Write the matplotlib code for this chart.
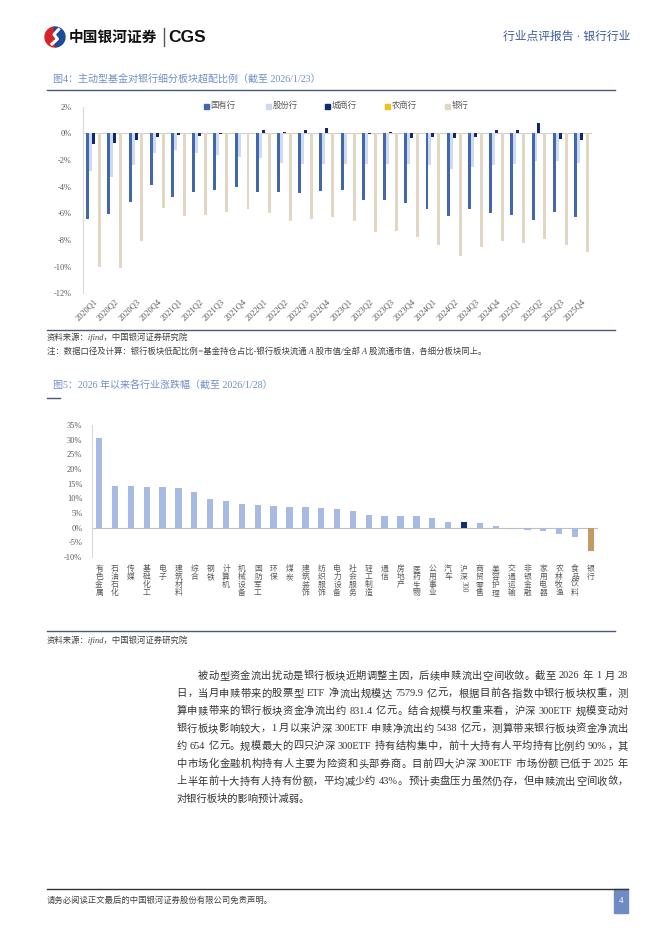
import re

import matplotlib
matplotlib.use('Agg')
import matplotlib.pyplot as plt
from matplotlib.patches import Rectangle, Wedge
import numpy as np

plt.rcParams['font.family'] = ['Liberation Serif', 'Noto Sans CJK SC']
plt.rcParams['axes.unicode_minus'] = False

W, H = 662, 936

# ---- data: figure 4 (active fund over/under-weight by bank sub-sector, %)
quarters = [f"{y}Q{q}" for y in range(2020, 2026) for q in range(1, 5)]
series_names = ['国有行', '股份行', '城商行', '农商行', '银行']
state_banks = [-6.4, -6.05, -5.15, -3.9, -4.8, -4.4, -4.25, -4.0, -4.4, -4.4, -4.5, -4.3,
               -4.25, -5.0, -5.0, -5.2, -5.65, -6.2, -5.65, -5.95, -6.1, -6.5, -5.9, -6.25]
joint_stock = [-2.8, -3.25, -2.4, -1.45, -1.25, -1.45, -1.6, -1.8, -1.85, -2.2, -2.3, -2.3,
               -2.3, -2.3, -2.3, -2.3, -2.4, -2.7, -2.5, -2.35, -2.3, -2.1, -2.1, -2.2]
city_banks = [-0.8, -0.7, -0.5, -0.25, -0.1, -0.2, -0.05, 0.05, 0.25, 0.07, 0.25, 0.4,
              0.0, -0.02, 0.08, -0.33, -0.25, -0.33, -0.25, 0.25, 0.25, 0.8, -0.4, -0.5]
rural_banks = [0.0] * 24
all_banks = [-10.0, -10.1, -8.05, -5.6, -6.2, -6.1, -5.9, -5.7, -6.0, -6.55, -6.45, -6.25,
             -6.6, -7.4, -7.3, -7.8, -8.4, -9.2, -8.5, -8.05, -8.2, -7.9, -8.4, -8.9]
series_colors = ['#4267AC', '#CEDAEE', '#10286E', '#F2C01E', '#E2D6C4']

# ---- data: figure 5 (industry returns since start of 2026, %)
industries = ['有色金属', '石油石化', '传媒', '基础化工', '电子', '建筑材料', '综合', '钢铁',
              '计算机', '机械设备', '国防军工', '环保', '煤炭', '建筑装饰', '纺织服饰', '电力设备',
              '社会服务', '轻工制造', '通信', '房地产', '医药生物', '公用事业', '汽车', '沪深300',
              '商贸零售', '美容护理', '交通运输', '非银金融', '家用电器', '农林牧渔', '食品饮料', '银行']
returns = [30.5, 14.1, 14.1, 13.8, 13.8, 13.4, 12.2, 9.8, 9.1, 7.9, 7.6, 7.4, 7.1, 7.0, 6.8, 6.5,
           5.8, 4.3, 4.0, 4.0, 4.0, 3.3, 2.0, 2.0, 1.6, 0.4, -0.3, -0.9, -1.3, -2.1, -3.1, -7.8]

body_lines = [
    "被动型资金流出扰动是银行板块近期调整主因，后续申赎流出空间收敛。截至 2026 年 1 月 28",
    "日，当月申赎带来的股票型 ETF 净流出规模达 7579.9 亿元，根据目前各指数中银行板块权重，测",
    "算申赎带来的银行板块资金净流出约 831.4 亿元。结合规模与权重来看，沪深 300ETF 规模变动对",
    "银行板块影响较大，1 月以来沪深 300ETF 申赎净流出约 5438 亿元，测算带来银行板块资金净流出",
    "约 654 亿元。规模最大的四只沪深 300ETF 持有结构集中，前十大持有人平均持有比例约 90%，其",
    "中市场化金融机构持有人主要为险资和头部券商。目前四大沪深 300ETF 市场份额已低于 2025 年",
    "上半年前十大持有人持有份额，平均减少约 43%。预计卖盘压力虽然仍存，但申赎流出空间收敛，",
    "对银行板块的影响预计减弱。",
]

TICK = '#595959'
GRID = '#D0D0D0'


def fx(x):
    return x / W


def fy(y):
    return 1 - y / H


def px_axes(fig, left, top, right, bottom):
    return fig.add_axes([left / W, 1 - bottom / H, (right - left) / W, (bottom - top) / H])


def hline(fig, x0, x1, y, color, lw=1.0):
    fig.add_artist(plt.Line2D([fx(x0), fx(x1)], [fy(y), fy(y)], color=color, lw=lw,
                              transform=fig.transFigure))


def justified_line(fig, renderer, text, x0, x1, y, **kw):
    # spread the leftover width over the gaps between tokens, like a justified paragraph
    tokens = re.findall(r'[A-Za-z0-9.%]+|.', text)
    objs = [fig.text(0, fy(y), t, va='center', ha='left', **kw) for t in tokens]
    widths = [o.get_window_extent(renderer).width for o in objs]
    extra = (x1 - x0) - sum(widths)
    gap = extra / (len(objs) - 1) if len(objs) > 1 else 0
    x = x0
    for o, w in zip(objs, widths):
        o.set_x(fx(x))
        x += w + gap


fig = plt.figure(figsize=(W / 100, H / 100), dpi=100)
renderer = fig.canvas.get_renderer()

# ---- header
logo = px_axes(fig, 44, 25, 66, 49)
logo.set_xlim(-1.1, 1.1)
logo.set_ylim(-1.1, 1.1)
logo.set_aspect('equal')
logo.axis('off')
logo.add_patch(Wedge((0, 0), 1.0, 95, 275, color='#D7242A'))
logo.add_patch(Wedge((0, 0), 1.0, -85, 95, color='#1E4A9A'))
logo.plot([0.35, -0.1, 0.25, -0.3], [0.75, 0.25, -0.2, -0.7], color='white', lw=2.2)
fig.text(fx(69), fy(37), '中国银河证券', fontsize=10.6, fontweight='bold', color='#111111',
         family=['Noto Sans CJK SC'], va='center', ha='left')
fig.add_artist(plt.Line2D([fx(164), fx(164)], [fy(28), fy(46)], color='#555555', lw=1.0,
                          transform=fig.transFigure))
fig.text(fx(168), fy(37.5), 'CGS', fontsize=12.5, fontweight='bold', color='#111111',
         family=['Liberation Sans'], va='center', ha='left')
fig.text(fx(630), fy(37), '行业点评报告 · 银行行业', fontsize=8.5, color='#3E5C9A',
         va='center', ha='right')

# ---- figure 4
fig.text(fx(53), fy(80), '图4：主动型基金对银行细分板块超配比例（截至 2026/1/23）',
         fontsize=7.2, color='#6F8FC9', va='center', ha='left')
hline(fig, 47, 615, 90, '#4A5875', 1.0)

ax1 = px_axes(fig, 83, 106.7, 592, 293.3)
x = np.arange(len(quarters))
bw = 0.14
for i, (vals, name, col) in enumerate(zip([state_banks, joint_stock, city_banks, rural_banks, all_banks],
                                          series_names, series_colors)):
    ax1.bar(x + (i - 2) * bw, vals, width=bw, color=col, label=name, linewidth=0)
ax1.set_xlim(-0.5, len(quarters) - 0.5)
ax1.set_ylim(-12, 2)
ax1.set_yticks(np.arange(-12, 3, 2))
ax1.set_yticklabels([f"{v}%" for v in np.arange(-12, 3, 2)])
ax1.axhline(0, color=GRID, lw=0.8, zorder=0)
ax1.set_xticks(x)
ax1.set_xticklabels(quarters, rotation=45, ha='right', rotation_mode='anchor')
for s in ['top', 'right', 'bottom']:
    ax1.spines[s].set_visible(False)
ax1.spines['left'].set_color('#D9D9D9')
ax1.spines['left'].set_linewidth(0.8)
ax1.tick_params(axis='both', length=0, labelsize=6, colors=TICK)
ax1.tick_params(axis='y', pad=8)
ax1.tick_params(axis='x', pad=3)

legend_x = [204, 266, 325, 385, 445]
for lx, name, col in zip(legend_x, series_names, series_colors):
    fig.add_artist(Rectangle((fx(lx), fy(108.5)), 5 / W, 5 / H, color=col,
                             transform=fig.transFigure))
    fig.text(fx(lx + 6.5), fy(106), name, fontsize=6, color=TICK, va='center', ha='left')

hline(fig, 47, 615, 330, '#4A5875', 1.0)
fig.text(fx(47), fy(337), '资料来源：ifind，中国银河证券研究院', fontsize=6, color='#404040',
         style='italic', va='center', ha='left')
fig.text(fx(47), fy(352),
         '注：数据口径及计算：银行板块低配比例=基金持仓占比-银行板块流通 A 股市值/全部 A 股流通市值，各细分板块同上。',
         fontsize=6, color='#404040', style='italic', va='center', ha='left')

# ---- figure 5
fig.text(fx(53), fy(386), '图5：2026 年以来各行业涨跌幅（截至 2026/1/28）',
         fontsize=7.2, color='#6F8FC9', va='center', ha='left')
hline(fig, 47, 60, 398, '#4A5875', 1.0)

ax2 = px_axes(fig, 92, 425, 598, 557)
x2 = np.arange(len(industries))
bar_colors = ['#0F2B7A' if n == '沪深300' else '#C29B64' if n == '银行' else '#A6BAE2'
              for n in industries]
ax2.bar(x2, returns, width=0.4, color=bar_colors, linewidth=0)
ax2.set_xlim(-0.45, len(industries) - 0.55)
ax2.set_ylim(-10, 35)
ax2.set_yticks(np.arange(-10, 36, 5))
ax2.set_yticklabels([f"{v}%" for v in np.arange(-10, 36, 5)])
ax2.axhline(0, color='#BFBFBF', lw=0.8, zorder=0)
ax2.set_xticks([])
for s in ['top', 'right', 'bottom']:
    ax2.spines[s].set_visible(False)
ax2.spines['left'].set_color('#D9D9D9')
ax2.spines['left'].set_linewidth(0.8)
ax2.tick_params(axis='y', length=0, labelsize=6, colors=TICK, pad=7)

# vertical (stacked) category labels
ax_h = 557 - 425
label_top = -8 / ax_h
line_h = 7.7 / ax_h
trans = ax2.get_xaxis_transform()
for xi, name in zip(x2, industries):
    if name == '沪深300':
        ax2.text(xi, label_top, '沪\n深', transform=trans, fontsize=5.6, color=TICK,
                 ha='center', va='top', linespacing=1.0, clip_on=False)
        ax2.text(xi, label_top - 2 * line_h - 0.005, '300', transform=trans, fontsize=5.6,
                 color=TICK, ha='center', va='top', rotation=-90, clip_on=False)
    else:
        ax2.text(xi, label_top, '\n'.join(name), transform=trans, fontsize=5.6, color=TICK,
                 ha='center', va='top', linespacing=1.0, clip_on=False)

hline(fig, 47, 615, 631, '#4A5875', 1.0)
fig.text(fx(47), fy(640), '资料来源：ifind，中国银河证券研究院', fontsize=6, color='#404040',
         style='italic', va='center', ha='left')

# ---- body text
line_y0, line_dy = 676, 17.6
for i, line in enumerate(body_lines):
    y = line_y0 + i * line_dy
    left = 198 if i == 0 else 176.5
    if i < len(body_lines) - 1:
        justified_line(fig, renderer, line, left, 628, y, fontsize=7.4, color='#333333')
    else:
        fig.text(fx(left), fy(y), line, fontsize=7.4, color='#333333', va='center', ha='left')

# ---- footer
hline(fig, 47, 628, 889, '#333333', 1.0)
fig.text(fx(47), fy(901), '请务必阅读正文最后的中国银河证券股份有限公司免责声明。', fontsize=6,
         color='#404040', va='center', ha='left')
fig.add_artist(Rectangle((fx(614), fy(913)), 14 / W, 24 / H, color='#6F8BC4',
                         transform=fig.transFigure))
fig.text(fx(621), fy(901), '4', fontsize=6.5, color='white', va='center', ha='center')

fig.savefig('out.png', dpi=100)
